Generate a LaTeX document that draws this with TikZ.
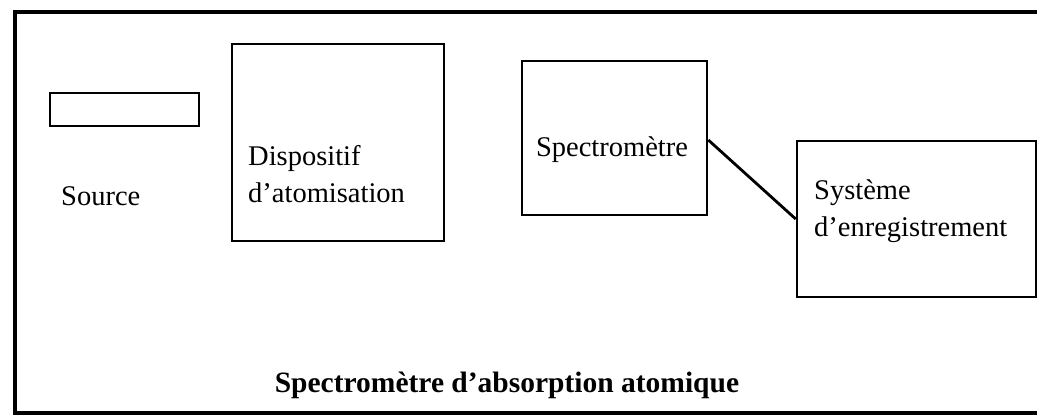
\documentclass[tikz,border=0pt]{standalone}
\usepackage{fontspec}
\setmainfont{Liberation Serif}
\usetikzlibrary{positioning}
\tikzset{
  unit/.style={draw, line width=2.6pt, inner sep=0pt},
  lbl/.style={font=\fontsize{28.5}{37}\selectfont, inner sep=0pt, align=left}
}
\begin{document}
\begin{tikzpicture}[x=1pt, y=-1pt]
      \useasboundingbox (0,0) rectangle (1037,420);
      % outer frame, cut on the right
      \draw[line width=3.2pt] (1045,12) -- (15,12) -- (15,413) -- (1045,413);

      % source lamp and its label
      \node[unit, minimum width=149pt, minimum height=33pt] (lamp) at (124.5,109.5) {};
      \node[lbl, anchor=west] (source) at (61,196) {Source};

      % atomiser
      \node[unit, minimum width=212pt, minimum height=197pt] (atom) at (338,142.5) {};
      \node[lbl, anchor=west] (atomtxt) at (248,174) {Dispositif\\d'atomisation};

      % spectrometer
      \node[unit, minimum width=185pt, minimum height=154pt] (spectro) at (614.5,138) {};
      \node[lbl] (spectrotxt) at (612,150) {Spectromètre};

      % recorder
      \node[unit, minimum width=239pt, minimum height=156pt] (recorder) at (916.5,219) {};
      \node[lbl, anchor=west] (recordertxt) at (814,211) {Système\\d'enregistrement};

      \draw[line width=2.8pt] (spectro.east) ++(0,2) -- (recorder.west);

      % title
      \node[font=\fontsize{29.5}{34}\selectfont\bfseries, inner sep=0pt] (title) at (507,385)
            {Spectromètre d'absorption atomique};
    \end{tikzpicture}
\end{document}
